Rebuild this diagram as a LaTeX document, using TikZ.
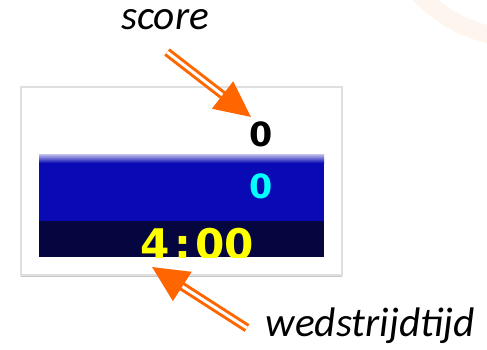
\documentclass[tikz,border=0pt]{standalone}
\usepackage{fontspec}
\setmainfont{Carlito}
\newfontfamily\boardfont{DejaVu Sans}
\usetikzlibrary{arrows.meta,shadows}
\definecolor{arroworange}{HTML}{FF6600}
\definecolor{barblue}{HTML}{0A0AB4}
\definecolor{bardark}{HTML}{05053F}
\definecolor{scorecyan}{RGB}{0,255,255}
\definecolor{clockyellow}{RGB}{255,255,0}
\definecolor{glow}{HTML}{FEEFE2}
\tikzset{
  board/.style   = { fill=white, draw=gray!25, line width=1pt,
                     drop shadow={shadow xshift=0pt, shadow yshift=-1.4pt, opacity=.45} },
  pointto/.style = { draw=arroworange, line width=1.7pt, double=white, double distance=1.7pt,
                     -{Triangle[length=0.72cm,width=0.68cm]} },
  caption/.style = { font=\fontsize{23.5}{28}\selectfont\itshape },
  digit/.style   = { font=\boardfont\bfseries\fontsize{19}{22}\selectfont, anchor=east, inner sep=0pt }
}

\begin{document}
\begin{tikzpicture}[x=0.02cm, y=-0.02cm]
    \useasboundingbox (0,0) rectangle (487,349);
    \draw[glow, line width=10pt, opacity=.6] (520,-100) circle (138);

    % scoreboard
    \draw[board] (21,87) rectangle (342,275);
    \fill[barblue] (39,154) rectangle (324,221);
    \shade[top color=barblue!25!white, bottom color=barblue] (39,154) rectangle (324,163);
    \fill[bardark] (39,221) rectangle (324,257);

    \node[digit, text=black] (home) at (273,134) {0};
    \node[digit, text=scorecyan] (guest) at (273,186) {0};
    \begin{scope}
      \clip (39,221) rectangle (324,257);
      \node[font=\boardfont\bfseries\fontsize{24}{28}\selectfont, text=clockyellow, anchor=base, inner sep=0pt]
        (clock) at (197,259) {4\kern3pt:\kern2pt00};
    \end{scope}

    % labels
    \node[caption] (scorelbl) at (165,20) {score};
    \node[caption] (timelbl) at (370,326) {wedstrijdtijd};
    \coordinate (scorefrom) at (167,52);
    \coordinate (scoretip) at (251,117);
    \coordinate (timefrom) at (247,328);
    \coordinate (timetip) at (152,267);

    \draw[pointto] (scorefrom) -- (scoretip);
    \draw[pointto] (timefrom) -- (timetip);
\end{tikzpicture}
\end{document}
